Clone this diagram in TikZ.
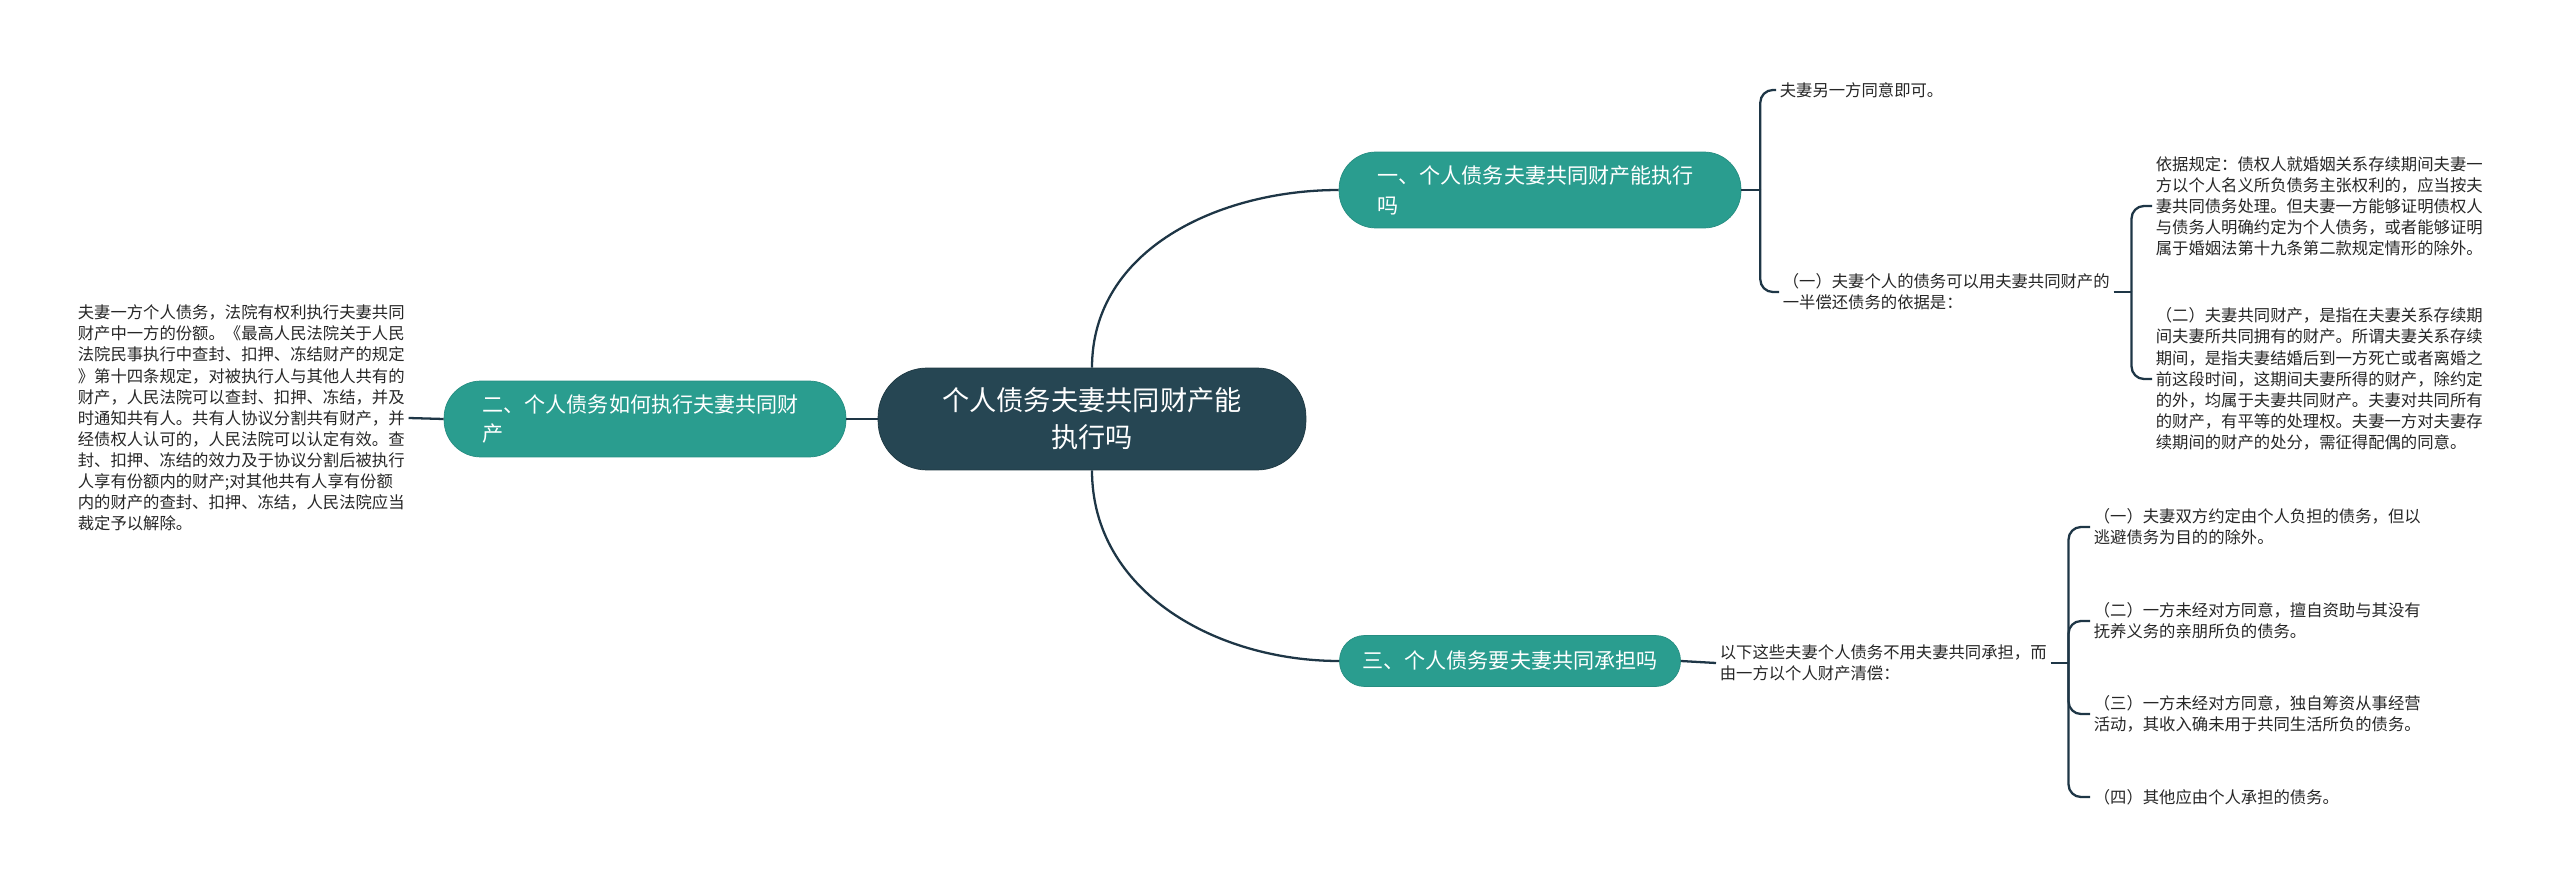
\documentclass[tikz,border=0pt]{standalone}
\usepackage{fontspec}
\setmainfont{Noto Sans CJK SC}
\usetikzlibrary{positioning}
\definecolor{rootcol}{HTML}{264653}
\definecolor{branchcol}{HTML}{2A9D8F}
\definecolor{linecol}{HTML}{1E3646}

\tikzset{
  root/.style={fill=rootcol, draw=rootcol!80!black, text=white, rounded corners=0.98cm,
    minimum width=8.56cm, minimum height=2.04cm, align=center,
    font=\fontsize{15.5}{21}\selectfont},
  branch/.style={fill=branchcol, draw=branchcol!90!black, text=white, rounded corners=0.74cm,
    minimum height=1.52cm, font=\fontsize{12}{17}\selectfont},
  leaf/.style={anchor=west, align=left, inner sep=2pt, text=black!85,
    font=\fontsize{9.3}{12}\selectfont},
  link/.style={draw=linecol, line width=1.3pt},
  bracket/.style={link, rounded corners=0.25cm},
}

\begin{document}
\begin{tikzpicture}[x=0.02cm, y=-0.02cm]
    % Canvas size (pixels of the reference)
    \useasboundingbox (0,0) rectangle (2560,885);
    % Centre and main branches
    \node[root] (root) at (1092,419) {个人债务夫妻共同财产能\\执行吗};
    \node[branch, text width=6.5cm, inner xsep=0.77cm, align=left] (b1) at (1540,190)
        {一、个人债务夫妻共同财产能执行\\吗};
    \node[branch, text width=6.5cm, inner xsep=0.77cm, align=left] (b2) at (645,419)
        {二、个人债务如何执行夫妻共同财\\产};
    \node[branch, minimum width=6.82cm, minimum height=1.02cm, rounded corners=0.5cm] (b3) at (1510,661)
        {三、个人债务要夫妻共同承担吗};
    % Branch one
    \node[leaf] (n11) at (1776,90) {夫妻另一方同意即可。};
    \node[leaf] (n12) at (1779,292) {（一）夫妻个人的债务可以用夫妻共同财产的\\一半偿还债务的依据是：};
    \node[leaf] (n121) at (2152,206) {依据规定：债权人就婚姻关系存续期间夫妻一\\方以个人名义所负债务主张权利的，应当按夫\\妻共同债务处理。但夫妻一方能够证明债权人\\与债务人明确约定为个人债务，或者能够证明\\属于婚姻法第十九条第二款规定情形的除外。};
    \node[leaf] (n122) at (2152,379) {（二）夫妻共同财产，是指在夫妻关系存续期\\间夫妻所共同拥有的财产。所谓夫妻关系存续\\期间，是指夫妻结婚后到一方死亡或者离婚之\\前这段时间，这期间夫妻所得的财产，除约定\\的外，均属于夫妻共同财产。夫妻对共同所有\\的财产，有平等的处理权。夫妻一方对夫妻存\\续期间的财产的处分，需征得配偶的同意。};
    % Branch two
    \node[leaf] (n21) at (74,418) {夫妻一方个人债务，法院有权利执行夫妻共同\\财产中一方的份额。《最高人民法院关于人民\\法院民事执行中查封、扣押、冻结财产的规定\\》第十四条规定，对被执行人与其他人共有的\\财产，人民法院可以查封、扣押、冻结，并及\\时通知共有人。共有人协议分割共有财产，并\\经债权人认可的，人民法院可以认定有效。查\\封、扣押、冻结的效力及于协议分割后被执行\\人享有份额内的财产;对其他共有人享有份额\\内的财产的查封、扣押、冻结，人民法院应当\\裁定予以解除。};
    % Branch three
    \node[leaf] (n31) at (1716,663) {以下这些夫妻个人债务不用夫妻共同承担，而\\由一方以个人财产清偿：};
    \node[leaf] (n311) at (2090,527) {（一）夫妻双方约定由个人负担的债务，但以\\逃避债务为目的的除外。};
    \node[leaf] (n312) at (2090,621) {（二）一方未经对方同意，擅自资助与其没有\\抚养义务的亲朋所负的债务。};
    \node[leaf] (n313) at (2090,714) {（三）一方未经对方同意，独自筹资从事经营\\活动，其收入确未用于共同生活所负的债务。};
    \node[leaf] (n314) at (2090,797) {（四）其他应由个人承担的债务。};
    % Connectors from the centre
    \draw[link] (root.north) to[out=90, in=180] (b1.west);
    \draw[link] (root.south) to[out=-90, in=180] (b3.west);
    \draw[link] (root.west) -- (b2.east);
    \draw[link] (b2.west) -- (n21.east);
    \draw[link] (b3.east) -- (n31.west);
    % Brackets
    \path (b1.east) ++(19,0) coordinate (j1);
    \path (n12.east) ++(18,0) coordinate (j12);
    \path (n31.east) ++(18,0) coordinate (j31);
    \draw[link] (b1.east) -- (j1);
    \draw[link] (n12.east) -- (j12);
    \draw[link] (n31.east) -- (j31);
    \foreach \k in {n11,n12} {
        \draw[bracket] (j1) |- (\k.west);
    }
    \foreach \k in {n121,n122} {
        \draw[bracket] (j12) |- (\k.west);
    }
    \foreach \k in {n311,n312,n313,n314} {
        \draw[bracket] (j31) |- (\k.west);
    }
\end{tikzpicture}
\end{document}
